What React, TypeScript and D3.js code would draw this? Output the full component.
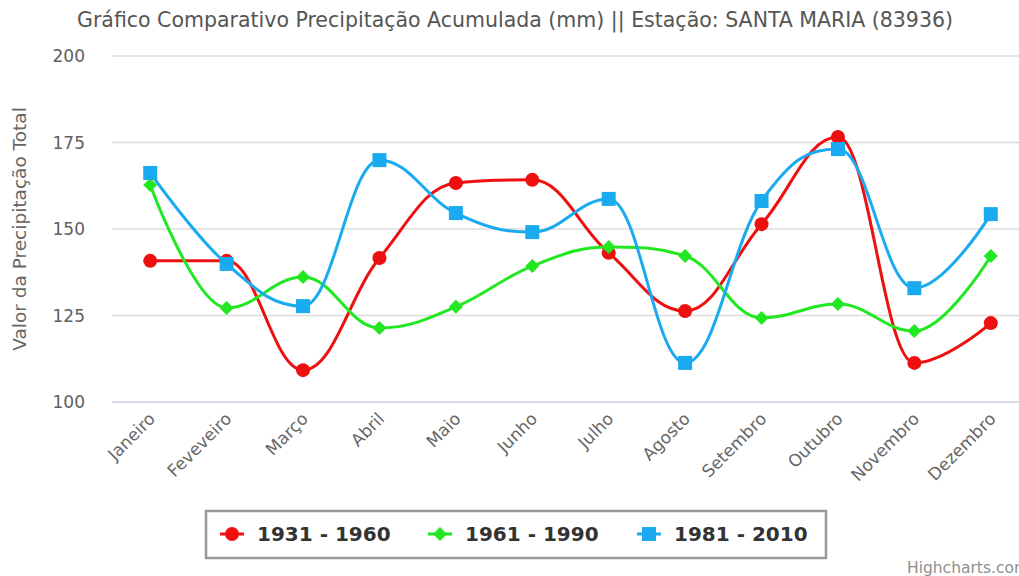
import React from "react";
import * as d3 from "d3";

const months = ["Janeiro","Feveveiro","Março","Abril","Maio","Junho","Julho","Agosto","Setembro","Outubro","Novembro","Dezembro"];
const s1931 = [140.8,140.8,109.2,141.6,163.3,164.2,143.1,126.3,151.4,176.6,111.3,122.8];
const s1961 = [162.7,127.2,136.1,121.4,127.5,139.3,144.8,142.2,124.3,128.3,120.5,142.2];
const s1981 = [166.2,139.9,127.7,169.9,154.6,149.1,158.7,111.3,158.1,173.1,132.9,154.3];
const yTicks = [100,125,150,175,200];
const seriesNames = ["1931 - 1960","1961 - 1990","1981 - 2010"];
const seriesColors = ["#ee0f0f","#22e822","#1aaaf0"];
const seriesSymbols = ["circle","diamond","square"];

const W = 1019, H = 576;
const plotLeft = 112, plotRight = 1029, plotTop = 56, plotBottom = 402;

function splinePath(pts: [number, number][]) {
  const p = d3.path();
  const sm = 1.5, den = sm + 1;
  let lastRC: [number, number] | null = null;
  pts.forEach((pt, i) => {
    const [x, y] = pt;
    if (i === 0) { p.moveTo(x, y); lastRC = null; return; }
    const prev = pts[i - 1];
    const next = pts[i + 1];
    let lcx = x, lcy = y, rcx: number | null = null, rcy: number | null = null;
    if (next) {
      lcx = (sm * x + prev[0]) / den;
      lcy = (sm * y + prev[1]) / den;
      let rx = (sm * x + next[0]) / den;
      let ry = (sm * y + next[1]) / den;
      if (rx !== lcx) {
        const corr = ((ry - lcy) * (rx - x)) / (rx - lcx) + y - ry;
        lcy += corr; ry += corr;
      }
      if (lcy > prev[1] && lcy > y) { lcy = Math.max(prev[1], y); ry = 2 * y - lcy; }
      else if (lcy < prev[1] && lcy < y) { lcy = Math.min(prev[1], y); ry = 2 * y - lcy; }
      if (ry > next[1] && ry > y) { ry = Math.max(next[1], y); lcy = 2 * y - ry; }
      else if (ry < next[1] && ry < y) { ry = Math.min(next[1], y); lcy = 2 * y - ry; }
      rcx = rx; rcy = ry;
    }
    const c1: [number, number] = lastRC ? lastRC : [prev[0], prev[1]];
    p.bezierCurveTo(c1[0], c1[1], lcx, lcy, x, y);
    lastRC = rcx !== null && rcy !== null ? [rcx, rcy] : null;
  });
  return p.toString();
}

function Marker({ type, x, y, color }: { type: string; x: number; y: number; color: string }) {
  if (type === "circle") return <circle cx={x} cy={y} r={7} fill={color} />;
  if (type === "diamond") return <path d={`M${x},${y - 7}L${x + 7},${y}L${x},${y + 7}L${x - 7},${y}Z`} fill={color} />;
  return <rect x={x - 7} y={y - 7} width={14} height={14} fill={color} />;
}

export default function App() {
  const x = d3.scalePoint<string>().domain(months).range([plotLeft, plotRight]).padding(0.5);
  const y = d3.scaleLinear().domain([100, 200]).range([plotBottom, plotTop]);
  const data = [s1931, s1961, s1981];
  const font = "'DejaVu Sans', sans-serif";
  const legendX = [232, 440, 649];
  return (
    <svg width={W} height={H} style={{ position: "absolute", left: 0, top: 0, background: "#fff" }}>
      <text x={515} y={27} textAnchor="middle" textLength={876} lengthAdjust="spacingAndGlyphs" fontFamily="'DejaVu Sans Condensed', 'DejaVu Sans', sans-serif" fontSize={21} fill="#555">
        Gráfico Comparativo Precipitação Acumulada (mm) || Estação: SANTA MARIA (83936)
      </text>
      {yTicks.map(t => (
        <g key={t}>
          <line x1={plotLeft} x2={W} y1={y(t)} y2={y(t)} stroke={t === 100 ? "#c8d0dc" : "#dcdcdc"} strokeWidth={1.5} />
          <text x={85} y={y(t) + 6} textAnchor="end" fontFamily={font} fontSize={17} fill="#606060">{t}</text>
        </g>
      ))}
      <text transform={`translate(26,229) rotate(-90)`} textAnchor="middle" fontFamily={font} fontSize={18.5} fill="#666">
        Valor da Precipitação Total
      </text>
      {months.map(m => (
        <text key={m} transform={`translate(${(x(m) as number) + 6},${420}) rotate(-45)`} textAnchor="end" fontFamily={font} fontSize={17} fill="#666">
          {m}
        </text>
      ))}
      {data.map((s, si) => {
        const pts: [number, number][] = s.map((v, i) => [x(months[i]) as number, y(v)]);
        return (
          <g key={si}>
            <path d={splinePath(pts)} fill="none" stroke={seriesColors[si]} strokeWidth={3} />
            {pts.map((p, i) => <Marker key={i} type={seriesSymbols[si]} x={p[0]} y={p[1]} color={seriesColors[si]} />)}
          </g>
        );
      })}
      <rect x={206} y={511} width={620} height={47} fill="none" stroke="#999" strokeWidth={2.5} />
      {seriesNames.map((n, i) => (
        <g key={n}>
          <line x1={legendX[i] - 12} x2={legendX[i] + 12} y1={534} y2={534} stroke={seriesColors[i]} strokeWidth={3} />
          <Marker type={seriesSymbols[i]} x={legendX[i]} y={534} color={seriesColors[i]} />
          <text x={legendX[i] + 25} y={541} fontFamily={font} fontSize={20} fontWeight="bold" fill="#333">{n}</text>
        </g>
      ))}
      <text x={907} y={573} fontFamily={font} fontSize={15.5} fill="#909090">Highcharts.com</text>
    </svg>
  );
}
